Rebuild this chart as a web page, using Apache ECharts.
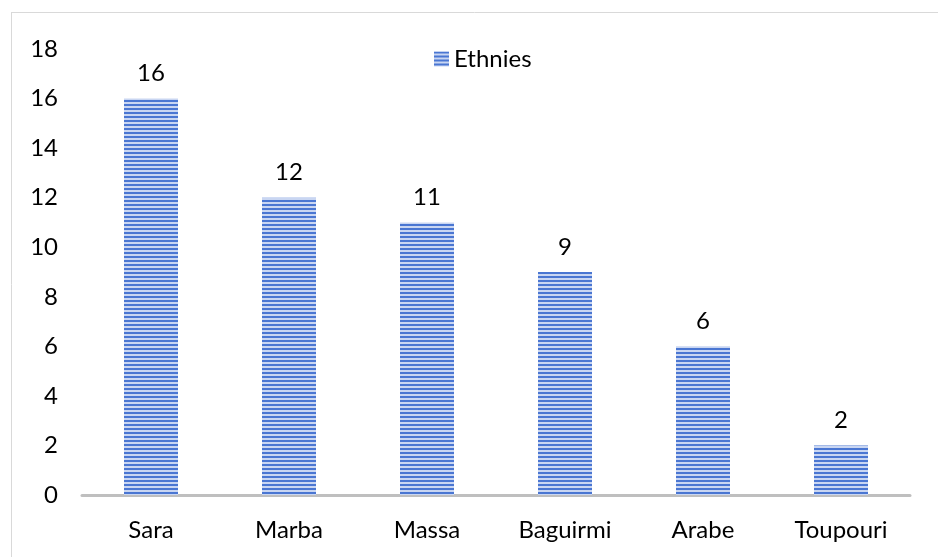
<!DOCTYPE html>
<html><head><meta charset="utf-8">
<script src="https://cdn.jsdelivr.net/npm/echarts@6/dist/echarts.min.js"></script>
<style>html,body{margin:0;padding:0;background:#fff}#c{width:938px;height:557px}</style>
</head><body><div id="c"></div>
<script>
const categories = ['Sara', 'Marba', 'Massa', 'Baguirmi', 'Arabe', 'Toupouri'];
const values = [16, 12, 11, 9, 6, 2];
const seriesName = 'Ethnies';
const yTicks = [0, 2, 4, 6, 8, 10, 12, 14, 16, 18];

function stripes() {
  const c = document.createElement('canvas');
  c.width = 8; c.height = 4;
  const g = c.getContext('2d');
  g.fillStyle = '#c9d6f2'; g.fillRect(0, 0, 8, 4);
  g.fillStyle = '#4a76d2'; g.fillRect(0, 0, 8, 2);
  return c;
}
const pat = { image: stripes(), repeat: 'repeat' };
const font = 'Lato, "Open Sans", sans-serif';
const fs = 24;
const chart = echarts.init(document.getElementById('c'));
chart.setOption({
  animation: false,
  textStyle: { fontFamily: font },
  graphic: [
    { type: 'line', shape: { x1: 11, y1: 12.5, x2: 938, y2: 12.5 }, style: { stroke: '#d9d9d9', lineWidth: 1 } },
    { type: 'line', shape: { x1: 11.5, y1: 12, x2: 11.5, y2: 557 }, style: { stroke: '#d9d9d9', lineWidth: 1 } }
  ],
  legend: {
    top: 42, left: 429, itemWidth: 15, itemHeight: 15, itemGap: 8,
    textStyle: { fontSize: fs, color: '#000', fontFamily: font },
    data: [{ name: seriesName, icon: 'rect' }]
  },
  grid: { left: 82, right: 28, top: 49, bottom: 62 },
  xAxis: {
    type: 'category', data: categories,
    axisLine: { lineStyle: { color: '#bfbfbf', width: 3 } },
    axisTick: { show: false },
    axisLabel: { fontSize: fs, color: '#000', margin: 23, fontFamily: font }
  },
  yAxis: {
    type: 'value', min: yTicks[0], max: yTicks[yTicks.length - 1], interval: 2,
    axisLine: { show: false }, axisTick: { show: false }, splitLine: { show: false },
    axisLabel: { fontSize: fs, color: '#000', margin: 24, fontFamily: font }
  },
  series: [{
    name: seriesName, type: 'bar', data: values, barWidth: 54,
    itemStyle: { color: pat },
    label: { show: true, position: 'top', distance: 13, fontSize: fs, color: '#000', fontFamily: font }
  }]
});
</script></body></html>
